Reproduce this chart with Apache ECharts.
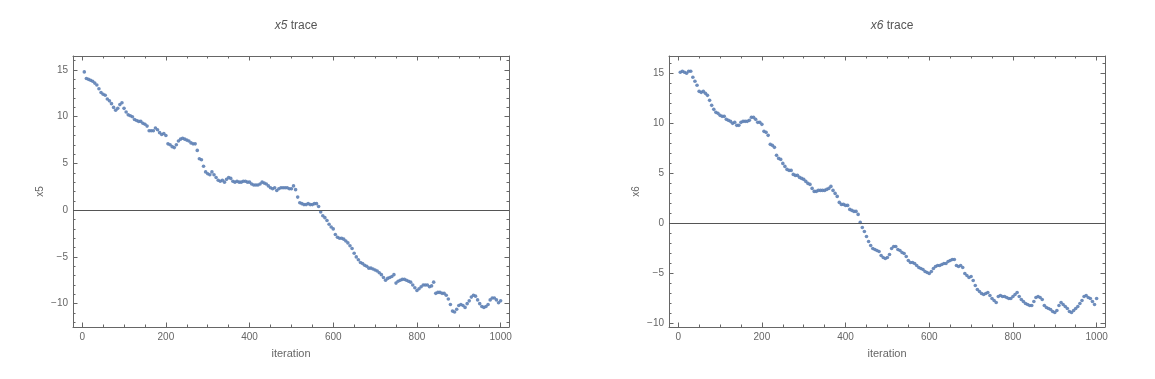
<!DOCTYPE html>
<html><head><meta charset="utf-8">
<script src="https://cdn.jsdelivr.net/npm/echarts@6/dist/echarts.min.js"></script>
<style>html,body{margin:0;padding:0;background:#fff}#c{width:1155px;height:379px}</style>
</head><body><div id="c"></div>
<script>
// ---- data (one value every 5 iterations) ----
const iterationStep = 5;
const x5Values = [
14.8,14.1,14.0,13.9,13.8,13.6,13.4,13.0,12.6,12.4,12.3,11.9,11.7,11.4,11.0,10.7,10.9,11.3,11.5,10.9,
10.5,10.2,10.1,10.0,9.7,9.6,9.5,9.5,9.3,9.2,9.0,8.5,8.5,8.5,8.8,8.6,8.3,8.1,8.2,8.0,
7.1,7.0,6.8,6.7,7.0,7.4,7.6,7.7,7.6,7.5,7.4,7.2,7.1,7.1,6.4,5.5,5.4,4.7,4.1,3.9,
3.8,4.1,3.8,3.5,3.2,3.1,3.2,3.0,3.3,3.5,3.4,3.1,3.0,3.1,3.0,3.0,3.1,3.1,3.0,3.0,
2.8,2.7,2.7,2.7,2.8,3.0,2.9,2.8,2.6,2.4,2.3,2.4,2.1,2.3,2.4,2.4,2.4,2.4,2.3,2.3,
2.6,2.2,1.4,0.8,0.7,0.6,0.6,0.7,0.6,0.6,0.7,0.7,0.4,-0.2,-0.6,-0.8,-1.1,-1.5,-1.8,-2.0,
-2.6,-2.9,-3.0,-3.0,-3.1,-3.3,-3.5,-3.8,-4.1,-4.6,-5.0,-5.3,-5.6,-5.7,-5.9,-6.0,-6.2,-6.2,-6.3,-6.4,
-6.5,-6.7,-6.9,-7.2,-7.5,-7.3,-7.2,-7.1,-6.9,-7.8,-7.6,-7.5,-7.4,-7.4,-7.5,-7.6,-7.7,-8.0,-8.3,-8.6,
-8.4,-8.2,-8.0,-8.0,-8.0,-8.2,-8.1,-7.7,-8.9,-8.8,-8.8,-8.9,-8.9,-9.1,-9.5,-10.1,-10.8,-10.9,-10.6,-10.2,
-10.1,-10.2,-10.4,-10.0,-9.7,-9.3,-9.1,-9.2,-9.6,-10.0,-10.3,-10.4,-10.3,-10.1,-9.6,-9.4,-9.4,-9.6,-9.9,-9.7
];
const x6Values = [
15.1,15.2,15.1,15.0,15.2,15.2,14.6,14.2,13.8,13.2,13.1,13.2,13.0,12.8,12.3,11.8,11.4,11.1,11.0,10.8,
10.7,10.7,10.4,10.3,10.2,10.0,10.1,9.8,9.8,10.1,10.2,10.2,10.2,10.3,10.6,10.6,10.4,10.1,10.1,9.9,
9.2,9.1,8.8,7.9,7.8,7.6,6.8,6.5,6.4,6.0,5.7,5.4,5.3,5.3,4.9,4.8,4.8,4.6,4.5,4.4,
4.2,4.0,3.9,3.5,3.2,3.2,3.3,3.3,3.3,3.3,3.4,3.5,3.7,3.3,3.0,2.7,2.1,1.9,1.9,1.8,
1.8,1.4,1.3,1.2,1.2,0.9,0.1,-0.4,-0.8,-1.3,-1.8,-2.2,-2.5,-2.6,-2.7,-2.8,-3.2,-3.4,-3.5,-3.4,
-3.1,-2.5,-2.3,-2.3,-2.6,-2.7,-2.9,-3.0,-3.3,-3.7,-3.9,-3.9,-4.0,-4.2,-4.4,-4.5,-4.6,-4.8,-4.9,-5.0,
-4.8,-4.5,-4.3,-4.2,-4.2,-4.1,-4.0,-4.0,-3.8,-3.7,-3.6,-3.6,-4.2,-4.3,-4.2,-4.4,-5.0,-5.2,-5.4,-5.3,
-5.7,-6.2,-6.6,-6.8,-7.0,-7.1,-7.0,-6.9,-7.2,-7.5,-7.7,-7.9,-7.3,-7.2,-7.3,-7.3,-7.4,-7.5,-7.5,-7.3,
-7.1,-6.9,-7.3,-7.6,-7.8,-8.0,-8.1,-8.2,-8.2,-7.8,-7.4,-7.3,-7.4,-7.6,-8.2,-8.4,-8.5,-8.6,-8.8,-8.9,
-8.7,-8.2,-7.9,-8.1,-8.3,-8.5,-8.8,-8.9,-8.7,-8.5,-8.3,-8.0,-7.7,-7.3,-7.2,-7.4,-7.5,-7.8,-8.1,-7.5
];
const xMajorTicks = [0,200,400,600,800,1000];
const xMinorTicks = [50,100,150,250,300,350,450,500,550,650,700,750,850,900,950];
const x5MajorTicks = [-10,-5,0,5,10,15];
const x5MinorTicks = [-12,-11,-9,-8,-7,-6,-4,-3,-2,-1,1,2,3,4,6,7,8,9,11,12,13,14,16];
const x6MajorTicks = [-10,-5,0,5,10,15];
const x6MinorTicks = [-9,-8,-7,-6,-4,-3,-2,-1,1,2,3,4,6,7,8,9,11,12,13,14,16];
const panels = [
  {title:'x5', values:x5Values, yMin:-12.5, yMax:16.5, yMajor:x5MajorTicks, yMinor:x5MinorTicks, left:73},
  {title:'x6', values:x6Values, yMin:-10.35, yMax:16.73, yMajor:x6MajorTicks, yMinor:x6MinorTicks, left:669}
];

// ---- styling ----
const FRAME = '#666';
const LABEL = '#666';
const FONT = 'Liberation Sans, Arial, sans-serif';
const GRID_W = 436, GRID_H = 271, GRID_TOP = 56;
const X_MIN = -22, X_MAX = 1020;
const fmt = v => String(v).replace('-', '\u2212');

const grids = [], xAxes = [], yAxes = [], series = [], titles = [];
panels.forEach((p, g) => {
  grids.push({left:p.left, top:GRID_TOP, width:GRID_W, height:GRID_H, containLabel:false});
  titles.push({
    text:'{i|' + p.title + '} trace', left:p.left + GRID_W/2, top:15, textAlign:'center',
    textStyle:{fontSize:12, color:'#555', fontWeight:'normal', fontFamily:FONT,
      rich:{i:{fontStyle:'italic', fontSize:12, color:'#555', fontFamily:FONT}}}
  });
  const xBase = {type:'value', gridIndex:g, min:X_MIN, max:X_MAX, splitLine:{show:false}};
  const xi = xAxes.length;
  xAxes.push(Object.assign({}, xBase, {position:'bottom',
    axisLine:{show:true, onZero:false, lineStyle:{color:FRAME, width:1}},
    axisTick:{show:true, inside:true, length:4.5, customValues:xMajorTicks, lineStyle:{color:FRAME}},
    axisLabel:{show:true, customValues:xMajorTicks, color:LABEL, fontSize:10, fontFamily:FONT, margin:5, formatter:fmt},
    name:'iteration', nameLocation:'middle', nameGap:21,
    nameTextStyle:{color:LABEL, fontSize:11, fontFamily:FONT}}));
  xAxes.push(Object.assign({}, xBase, {position:'bottom',
    axisLine:{show:false, onZero:false},
    axisTick:{show:true, inside:true, length:2.5, customValues:xMinorTicks, lineStyle:{color:FRAME}},
    axisLabel:{show:false}}));
  xAxes.push(Object.assign({}, xBase, {position:'top',
    axisLine:{show:true, onZero:false, lineStyle:{color:FRAME, width:1}},
    axisTick:{show:true, inside:true, length:4.5, customValues:xMajorTicks, lineStyle:{color:FRAME}},
    axisLabel:{show:false}}));
  xAxes.push(Object.assign({}, xBase, {position:'top',
    axisLine:{show:false, onZero:false},
    axisTick:{show:true, inside:true, length:2.5, customValues:xMinorTicks, lineStyle:{color:FRAME}},
    axisLabel:{show:false}}));

  const yBase = {type:'value', gridIndex:g, min:p.yMin, max:p.yMax, splitLine:{show:false}};
  const yi = yAxes.length;
  yAxes.push(Object.assign({}, yBase, {position:'left',
    axisLine:{show:true, onZero:false, lineStyle:{color:FRAME, width:1}},
    axisTick:{show:true, inside:true, length:4.5, customValues:p.yMajor, lineStyle:{color:FRAME}},
    axisLabel:{show:true, customValues:p.yMajor, color:LABEL, fontSize:10, fontFamily:FONT, margin:5, formatter:fmt},
    name:p.title, nameLocation:'middle', nameGap:28, nameRotate:90,
    nameTextStyle:{color:LABEL, fontSize:10, fontFamily:FONT}}));
  yAxes.push(Object.assign({}, yBase, {position:'left',
    axisLine:{show:false, onZero:false},
    axisTick:{show:true, inside:true, length:2.5, customValues:p.yMinor, lineStyle:{color:FRAME}},
    axisLabel:{show:false}}));
  yAxes.push(Object.assign({}, yBase, {position:'right',
    axisLine:{show:true, onZero:false, lineStyle:{color:FRAME, width:1}},
    axisTick:{show:true, inside:true, length:4.5, customValues:p.yMajor, lineStyle:{color:FRAME}},
    axisLabel:{show:false}}));
  yAxes.push(Object.assign({}, yBase, {position:'right',
    axisLine:{show:false, onZero:false},
    axisTick:{show:true, inside:true, length:2.5, customValues:p.yMinor, lineStyle:{color:FRAME}},
    axisLabel:{show:false}}));

  series.push({
    type:'scatter', xAxisIndex:xi, yAxisIndex:yi,
    symbol:'circle', symbolSize:3.6,
    itemStyle:{color:'#5E81B5', opacity:0.9},
    data:p.values.map((v, i) => [(i + 1) * iterationStep, v]),
    markLine:{silent:true, symbol:['none','none'], label:{show:false},
      lineStyle:{color:'#555', width:1, type:'solid'}, data:[{yAxis:0}], animation:false},
    animation:false
  });
});

const chart = echarts.init(document.getElementById('c'), null, {renderer:'canvas'});
chart.setOption({animation:false, backgroundColor:'#fff', title:titles, grid:grids, xAxis:xAxes, yAxis:yAxes, series:series});
</script>
</body></html>
